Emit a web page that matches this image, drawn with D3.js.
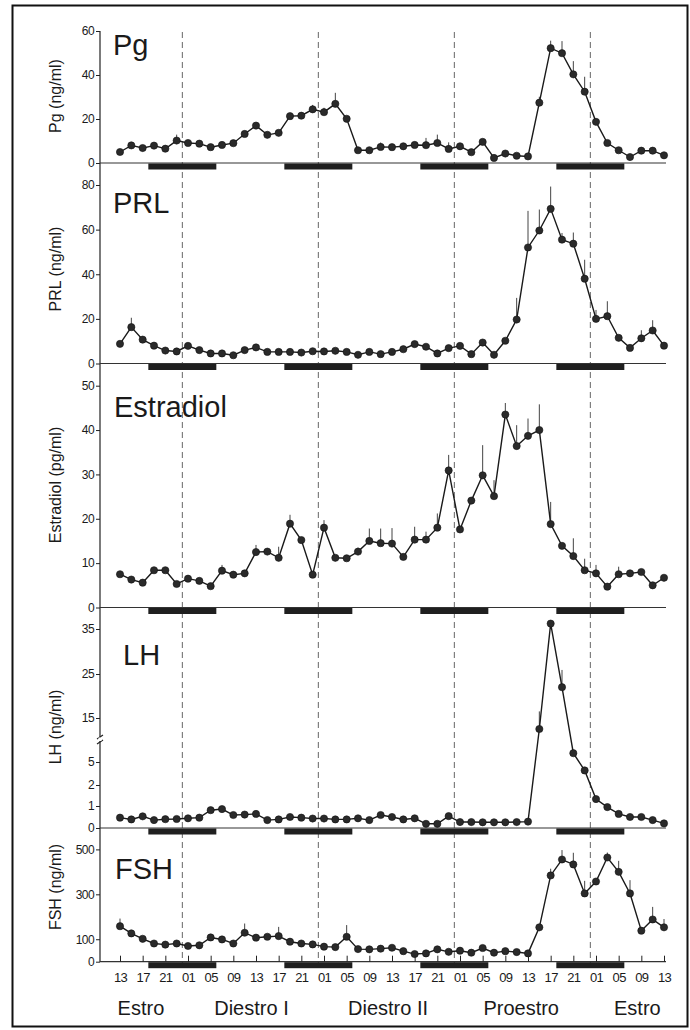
<!DOCTYPE html>
<html>
<head>
<meta charset="utf-8">
<script src="https://cdn.jsdelivr.net/npm/d3@7"></script>
<style>
  body { margin: 0; background: #fff; }
  svg text { font-family: "Liberation Sans", Arial, sans-serif; fill: #1a1a1a; }
</style>
</head>
<body>
<div id="chart"></div>
<script>
// sampling every 2 h, starting 13:00 of the first Estro day (hour 0) up to 13:00 four days later
var sampleHours = d3.range(0, 97, 2);

var hourLabels = ["13","17","21","01","05","09","13","17","21","01","05","09","13",
                  "17","21","01","05","09","13","17","21","01","05","09","13"];
var phases = ["Estro", "Diestro I", "Diestro II", "Proestro", "Estro"];
var phaseHours = [3.7, 23.2, 47.3, 70.8, 91.3];
var midnightHours = [11, 35, 59, 83];
var darkStartHours = [5, 29, 53, 77];

// hormone means
var pg = [5,8,6.8,7.9,6.5,10.2,9.1,8.8,7.2,8.2,9,13.2,17,12.8,13.7,21.3,21.5,24.4,23.1,26.9,
          20.1,5.8,5.8,7.3,7.2,7.6,8.2,8.1,9.1,6.4,7.6,4.9,9.6,2.3,4.3,3.3,3.0,27.4,52.2,49.9,
          40.3,32.4,18.7,9.1,5.8,2.7,5.6,5.6,3.5];
var prl = [8.8,16.3,10.7,8,5.8,5.4,7.9,6,4.5,4.5,3.7,6,7.2,5.2,5.2,5.2,4.9,5.5,5.4,5.7,
           5.2,3.9,5.2,4.2,5.2,6.4,8.7,7.5,4.5,6.9,7.9,4.2,9.4,3.9,10.2,19.7,52,59.6,69.3,55.5,
           53.7,38,20,21.2,11.5,7,11.3,14.8,8];
var estradiol = [7.5,6.3,5.6,8.4,8.4,5.3,6.5,6,4.8,8.3,7.4,7.7,12.5,12.6,11.2,18.9,15.2,7.4,18,11.2,
                 11.1,12.6,15,14.5,14.4,11.4,15.3,15.3,18,30.9,17.6,24.1,29.8,25.1,43.5,36.4,38.7,40,18.8,13.9,
                 11.6,8.4,7.7,4.7,7.5,7.7,8,5,6.7];
var lh = [0.47,0.39,0.53,0.36,0.4,0.41,0.44,0.47,0.81,0.86,0.59,0.61,0.64,0.36,0.39,0.5,0.47,0.43,0.43,0.39,
          0.39,0.44,0.36,0.59,0.5,0.39,0.44,0.19,0.19,0.54,0.27,0.27,0.26,0.26,0.26,0.27,0.29,12.5,36.2,22,
          7,3.9,1.33,0.95,0.64,0.5,0.5,0.36,0.21];
var fsh = [158,126,102,81,76,81,70,73,108,99,81,129,107,111,114,89,81,77,67,65,
           111,56,55,58,62,47,34,37,55,44,49,40,61,40,47,43,37,153,384,455,
           433,304,357,464,400,304,138,188,153];

// upper error bars (SEM), 0 = none visible
var pgErr = [0,0,0,0,0,2.7,0,0,0,0,0,0,0,0,0,0,0,2,2,5,
             0,0,0,2,0,0,0,3.3,3.8,3,0,0,0,0,0,0,0,2.7,3.4,5.5,
             6,6.8,0,0,0,0,0,0,0];
var prlErr = [0,4.2,0,0,0,0,0,0,0,0,0,0,0,0,0,0,0,0,0,0,
              0,0,0,0,0,0,0,0,0,0,0,0,0,0,0,9.7,16.4,9.4,10,3,
              5,8.5,4,6.7,0,0,3.6,4.6,0];
var estErr = [0,0,0,0,0,0,0,0,0,1.3,0,0,1.6,0,2.5,2,0,0,1.7,0,
              0,0.9,2.8,3.3,3.5,0,2.9,1.8,3.2,3.5,0,0,6.8,3.6,2.6,4.7,3.9,5.8,5,0,
              4,2.6,1.9,0,1.7,0,0,0,0];
var lhErr = [0,0,0,0,0,0,0,0,0,0,0,0,0,0,0,0,0,0,0,0,
             0,0,0,0,0,0,0,0,0,0,0,0,0,0,0,0,0,4,0.8,3.9,
             0,0,0,0,0,0,0,0,0];
var fshErr = [34,0,0,0,0,0,0,0,0,0,0,41,0,0,41,0,0,0,0,0,
              52,0,0,0,0,0,0,0,0,0,0,0,0,0,0,0,0,0,30,42,
              52,56,0,22,49,59,0,56,37];

var svg = d3.select("#chart").append("svg")
  .attr("width", 690)
  .attr("height", 1030);

// frame
svg.append("rect")
  .attr("x", 12.5).attr("y", 5.5)
  .attr("width", 675).attr("height", 1021)
  .attr("fill", "none").attr("stroke", "#111").attr("stroke-width", 2);

var x = d3.scaleLinear().domain([0, 96]).range([120, 664]);

var panels = [
  { name: "Pg", label: "Pg (ng/ml)", values: pg, err: pgErr,
    y: d3.scaleLinear().domain([0, 60]).range([163, 31]), ticks: [0, 20, 40, 60],
    titleY: 55, titleX: 113, labelY: 96 },
  { name: "PRL", label: "PRL (ng/ml)", values: prl, err: prlErr,
    y: d3.scaleLinear().domain([0, 80]).range([363.5, 185]), ticks: [0, 20, 40, 60, 80],
    titleY: 213, titleX: 113, labelY: 269 },
  { name: "Estradiol", label: "Estradiol (pg/ml)", values: estradiol, err: estErr,
    y: d3.scaleLinear().domain([0, 50]).range([607.5, 385.7]), ticks: [0, 10, 20, 30, 40, 50],
    titleY: 417, titleX: 114, labelY: 485 },
  { name: "LH", label: "LH (ng/ml)", values: lh, err: lhErr,
    // broken axis: low range expanded
    y: d3.scaleLinear().domain([0, 1, 2, 5, 15, 25, 35]).range([828, 806, 785, 762, 718, 674, 629]),
    ticks: [0, 1, 2, 5, 15, 25, 35],
    titleY: 665, titleX: 123, labelY: 727 },
  { name: "FSH", label: "FSH (ng/ml)", values: fsh, err: fshErr,
    y: d3.scaleLinear().domain([0, 500]).range([961.7, 849.4]), ticks: [0, 100, 300, 500],
    titleY: 879, titleX: 115, labelY: 887 }
];

// dashed midnight lines
svg.selectAll(".midnight")
  .data(midnightHours)
  .enter()
  .append("line")
  .attr("x1", d => x(d)).attr("x2", d => x(d))
  .attr("y1", 32).attr("y2", 968)
  .attr("stroke", "#666")
  .attr("stroke-width", 1)
  .attr("stroke-dasharray", "6,4");

// continuous y axis line
svg.append("line")
  .attr("x1", 100).attr("x2", 100)
  .attr("y1", 31).attr("y2", 962)
  .attr("stroke", "#222").attr("stroke-width", 1.2);

var line = d3.line();

panels.forEach(function(p) {
  var g = svg.append("g");
  var y0 = p.y(0);

  // zero line
  g.append("line")
    .attr("x1", 100).attr("x2", x(96) + 2)
    .attr("y1", y0).attr("y2", y0)
    .attr("stroke", "#333").attr("stroke-width", 1.2);

  // dark period bars
  g.selectAll(".dark")
    .data(darkStartHours)
    .enter()
    .append("rect")
    .attr("x", d => x(d))
    .attr("y", y0 + 0.5)
    .attr("width", x(12) - x(0))
    .attr("height", 6)
    .attr("fill", "#1f1f1f");

  // y axis ticks
  var axis = d3.axisLeft(p.y)
    .tickValues(p.ticks)
    .tickFormat(d3.format("d"))
    .tickSize(4)
    .tickPadding(2);
  var ag = g.append("g")
    .attr("transform", "translate(100,0)")
    .call(axis);
  ag.select(".domain").remove();
  ag.selectAll(".tick line").attr("stroke", "#222");
  ag.selectAll(".tick text")
    .attr("fill", "#222")
    .style("font-size", "12px")
    .style("letter-spacing", "-0.6px");

  // y label
  g.append("text")
    .attr("transform", "translate(61," + p.labelY + ") rotate(-90)")
    .attr("text-anchor", "middle")
    .style("font-size", "16px")
    .text(p.label);

  // title
  g.append("text")
    .attr("x", p.titleX)
    .attr("y", p.titleY)
    .style("font-size", "29px")
    .text(p.name);

  var pts = sampleHours.map(function(h, i) {
    return { h: h, v: p.values[i], e: p.err[i] };
  });

  // error bars
  g.selectAll(".err")
    .data(pts.filter(d => d.e > 0))
    .enter()
    .append("line")
    .attr("x1", d => x(d.h)).attr("x2", d => x(d.h))
    .attr("y1", d => p.y(d.v)).attr("y2", d => p.y(d.v + d.e))
    .attr("stroke", "#444").attr("stroke-width", 1);

  g.append("path")
    .attr("d", line(pts.map(d => [x(d.h), p.y(d.v)])))
    .attr("fill", "none")
    .attr("stroke", "#1a1a1a")
    .attr("stroke-width", 1.4);

  g.selectAll(".pt")
    .data(pts)
    .enter()
    .append("circle")
    .attr("cx", d => x(d.h))
    .attr("cy", d => p.y(d.v))
    .attr("r", 3.6)
    .attr("fill", "#2a2a2a")
    .attr("stroke", "#111")
    .attr("stroke-width", 0.6);
});

// LH axis break mark
var lhY = panels[3].y;
var yb = (lhY(5) + lhY(15)) / 2;
svg.append("path")
  .attr("d", "M97," + (yb - 1) + " L103," + (yb - 5) + " M97," + (yb + 4) + " L103," + yb)
  .attr("stroke", "#222").attr("stroke-width", 1.2).attr("fill", "none");
svg.append("rect")
  .attr("x", 98.5).attr("y", yb - 2.5).attr("width", 3).attr("height", 3.5)
  .attr("fill", "#fff");

// bottom time axis, ticks pointing up
var fshY = panels[4].y;
var bottom = d3.axisBottom(x)
  .tickValues(d3.range(0, 97, 4))
  .tickFormat((d, i) => hourLabels[i])
  .tickSize(-6)
  .tickSizeOuter(0)
  .tickPadding(11);
var bg = svg.append("g")
  .attr("transform", "translate(0," + fshY(0) + ")")
  .call(bottom);
bg.select(".domain").remove();
bg.selectAll(".tick line").attr("stroke", "#222");
bg.selectAll(".tick text")
  .attr("fill", "#222")
  .style("font-size", "13px")
  .style("letter-spacing", "-0.6px");

// phase names
svg.selectAll(".phase")
  .data(phases)
  .enter()
  .append("text")
  .attr("x", (d, i) => x(phaseHours[i]))
  .attr("y", 1015)
  .attr("text-anchor", "middle")
  .style("font-size", "20px")
  .text(d => d);
</script>
</body>
</html>
